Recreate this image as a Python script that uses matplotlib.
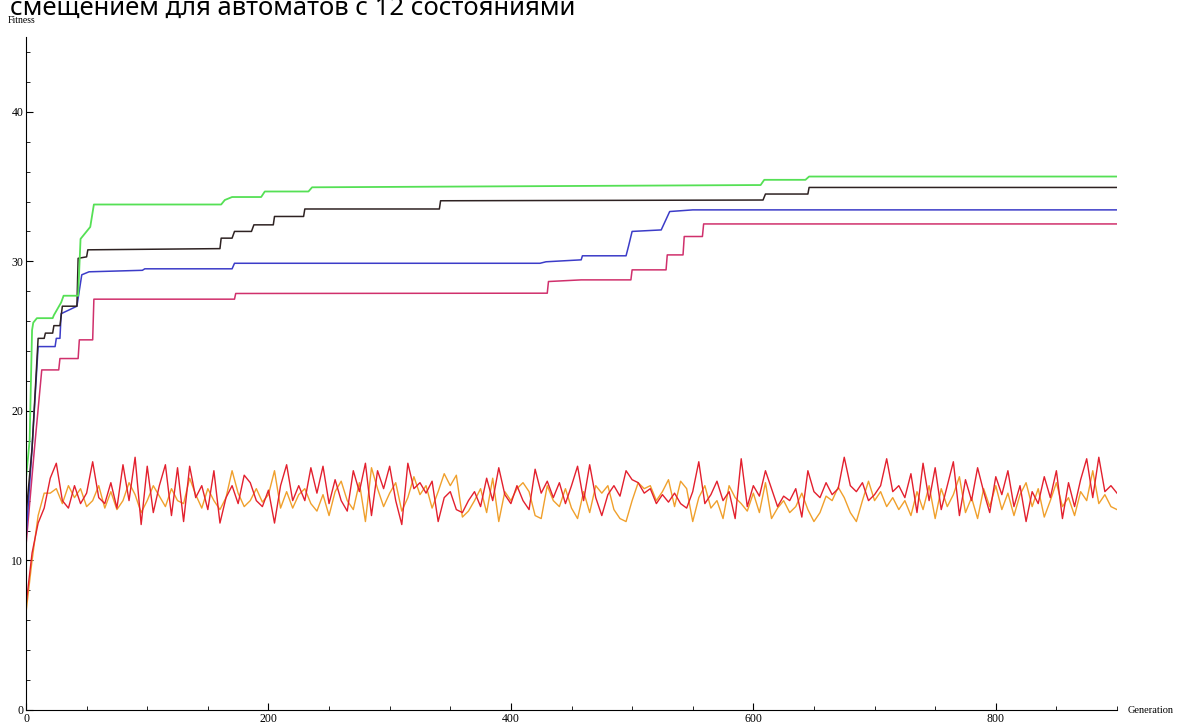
import matplotlib.pyplot as plt
from matplotlib.ticker import MultipleLocator

# step curves: (generation, fitness) breakpoints
green_x = [0, 3, 5, 6, 9, 22, 23, 29, 31, 43, 45, 50, 53, 56, 161, 164, 170, 194, 197, 233, 236, 600, 606, 609, 643, 646, 900]
green_y = [15.5, 18.0, 25.4, 25.9, 26.2, 26.2, 26.4, 27.25, 27.7, 27.7, 31.5, 32.0, 32.3, 33.8, 33.8, 34.1, 34.3, 34.3, 34.67, 34.67, 34.95, 35.1, 35.1, 35.45, 35.45, 35.67, 35.67]

black_x = [0, 5, 10, 15, 16, 22, 23, 28, 30, 42, 43, 50, 51, 160, 161, 170, 172, 186, 188, 204, 205, 229, 230, 341, 342, 608, 610, 645, 646, 900]
black_y = [13.0, 17.5, 24.85, 24.85, 25.2, 25.2, 25.7, 25.7, 27.0, 27.0, 30.2, 30.3, 30.77, 30.85, 31.55, 31.55, 32.0, 32.0, 32.44, 32.44, 33.0, 33.0, 33.5, 33.5, 34.05, 34.1, 34.5, 34.5, 34.94, 34.94]

blue_x = [0, 5, 10, 24, 25, 28, 29, 42, 46, 52, 96, 98, 170, 172, 424, 429, 458, 459, 495, 497, 500, 524, 531, 550, 900]
blue_y = [11.5, 17.5, 24.3, 24.3, 24.85, 24.85, 26.5, 27.0, 29.1, 29.3, 29.4, 29.5, 29.5, 29.87, 29.87, 29.97, 30.1, 30.37, 30.37, 31.0, 32.0, 32.1, 33.33, 33.44, 33.44]

pink_x = [0, 7, 13, 27, 28, 43, 44, 55, 56, 172, 173, 430, 431, 458, 499, 500, 528, 529, 542, 543, 558, 559, 900]
pink_y = [11.0, 17.5, 22.74, 22.74, 23.5, 23.5, 24.75, 24.75, 27.47, 27.47, 27.85, 27.87, 28.65, 28.76, 28.76, 29.43, 29.43, 30.43, 30.43, 31.66, 31.66, 32.5, 32.5]

# noisy curves, one value every 5 generations
noisy_x = list(range(0, 901, 5))
red_y = [7.0, 10.5, 12.5, 13.5, 15.5, 16.5, 14.0, 13.5, 15.0, 13.8,
         14.5, 16.6, 14.2, 13.8, 15.2, 13.5, 16.4, 14.0, 16.9, 12.4,
         16.3, 13.2, 15.0, 16.4, 13.0, 16.2, 12.6, 16.3, 14.2, 15.0,
         13.4, 16.0, 12.5, 14.2, 15.0, 13.8, 15.7, 15.2, 14.0, 13.6,
         14.7, 12.5, 15.0, 16.4, 14.0, 15.0, 14.0, 16.2, 14.5, 16.3,
         13.8, 15.4, 14.0, 13.3, 16.0, 14.6, 16.5, 13.0, 16.0, 14.8,
         16.3, 14.0, 12.4, 16.5, 14.8, 15.2, 14.5, 15.3, 12.6, 14.2,
         14.6, 13.4, 13.2, 14.0, 14.6, 13.6, 15.5, 14.0, 16.2, 14.4,
         13.8, 15.0, 14.0, 13.4, 16.1, 14.5, 15.3, 14.2, 15.2, 13.8,
         15.0, 16.3, 14.0, 16.4, 14.2, 13.0, 14.4, 15.0, 14.3, 16.0,
         15.4, 15.2, 14.5, 14.8, 13.8, 14.4, 13.9, 14.5, 13.8, 13.5,
         14.6, 16.6, 13.8, 14.4, 15.3, 14.0, 14.6, 12.8, 16.8, 13.6,
         15.0, 14.3, 16.0, 14.8, 13.6, 14.3, 14.0, 14.8, 12.9, 16.0,
         14.6, 14.2, 15.2, 14.4, 14.8, 16.9, 15.0, 14.6, 15.2, 14.0,
         14.4, 15.0, 16.8, 14.6, 15.0, 14.2, 15.8, 13.2, 16.5, 14.0,
         16.2, 13.4, 15.0, 16.6, 13.0, 15.4, 14.0, 16.2, 14.6, 13.2,
         15.6, 14.4, 16.0, 13.6, 15.0, 12.6, 14.6, 13.8, 15.6, 14.2,
         16.0, 12.8, 15.2, 13.6, 15.4, 16.8, 14.2, 16.9, 14.6, 15.0,
         14.5]
orange_y = [6.5, 10.0, 13.0, 14.5, 14.5, 14.8, 13.8, 15.0, 14.2, 14.8,
            13.6, 14.0, 15.0, 13.5, 14.6, 13.4, 14.0, 15.2, 14.4, 13.2,
            14.0, 15.0, 14.3, 13.6, 14.8, 14.0, 13.8, 15.5, 14.4, 13.5,
            14.8, 14.0, 13.4, 14.2, 16.0, 14.5, 13.6, 14.0, 14.8, 13.9,
            14.4, 16.0, 13.5, 14.6, 13.5, 14.4, 14.8, 13.8, 13.3, 14.4,
            13.0, 14.6, 15.3, 14.0, 13.4, 15.2, 12.6, 16.2, 14.8, 13.6,
            14.5, 15.2, 13.3, 14.2, 15.6, 14.4, 15.0, 13.5, 14.6, 15.8,
            15.0, 15.7, 12.9, 13.3, 14.0, 14.8, 13.2, 15.5, 12.6, 14.6,
            14.0, 14.8, 15.2, 14.6, 13.0, 12.8, 15.0, 14.0, 13.6, 14.8,
            13.5, 12.8, 14.6, 13.2, 15.0, 14.5, 15.0, 13.4, 12.8, 12.6,
            14.0, 15.2, 14.8, 15.0, 14.0, 14.6, 15.4, 13.6, 15.3, 14.8,
            12.6, 14.2, 15.0, 13.5, 14.0, 12.8, 15.0, 14.2, 13.8, 13.3,
            14.5, 13.2, 15.2, 12.8, 13.5, 14.0, 13.2, 13.6, 14.5, 13.4,
            12.6, 13.2, 14.3, 14.0, 14.9, 14.2, 13.2, 12.6, 14.0, 15.3,
            14.0, 14.6, 13.6, 14.2, 13.4, 14.0, 13.0, 14.6, 13.4, 15.0,
            12.8, 14.8, 13.6, 14.4, 15.6, 13.2, 14.2, 12.8, 14.8, 13.6,
            15.0, 13.4, 14.5, 13.0, 14.4, 15.2, 13.6, 14.8, 12.9, 14.0,
            15.2, 13.6, 14.2, 13.0, 14.6, 14.0, 16.0, 13.8, 14.4, 13.6,
            13.4]

fig = plt.figure(figsize=(11.81, 7.22), dpi=100)
ax = fig.add_axes([26 / 1181, 12 / 722, 1091 / 1181, 673 / 722])

ax.plot(noisy_x, orange_y, color="#f0a02c", lw=1.0)
ax.plot(noisy_x, red_y, color="#e3202e", lw=1.0)
ax.plot(pink_x, pink_y, color="#d0306c", lw=1.1)
ax.plot(blue_x, blue_y, color="#3c3cc8", lw=1.1)
ax.plot(black_x, black_y, color="#2e2222", lw=1.1)
ax.plot(green_x, green_y, color="#55e055", lw=1.3)

ax.set_xlim(0, 900)
ax.set_ylim(0, 45)
for s in ["top", "right"]:
    ax.spines[s].set_visible(False)
ax.xaxis.set_major_locator(MultipleLocator(200))
ax.xaxis.set_minor_locator(MultipleLocator(50))
ax.yaxis.set_major_locator(MultipleLocator(10))
ax.yaxis.set_minor_locator(MultipleLocator(2))
ax.tick_params(which="major", direction="in", length=5, labelsize=8.5, pad=2)
ax.tick_params(which="minor", direction="in", length=3)
for lab in ax.get_xticklabels() + ax.get_yticklabels():
    lab.set_family("Liberation Serif")

fig.text(8 / 1181, 1 - 23 / 722, "Fitness", fontsize=7, family="Liberation Serif", va="baseline")
fig.text(1128 / 1181, 1 - 713 / 722, "Generation", fontsize=7.5, family="Liberation Serif", va="baseline")
fig.text(10 / 1181, 1 - 15 / 722, "смещением для автоматов с 12 состояниями", fontsize=18.5,
         family="Noto Sans", va="baseline")

fig.savefig("out.png", dpi=100)
